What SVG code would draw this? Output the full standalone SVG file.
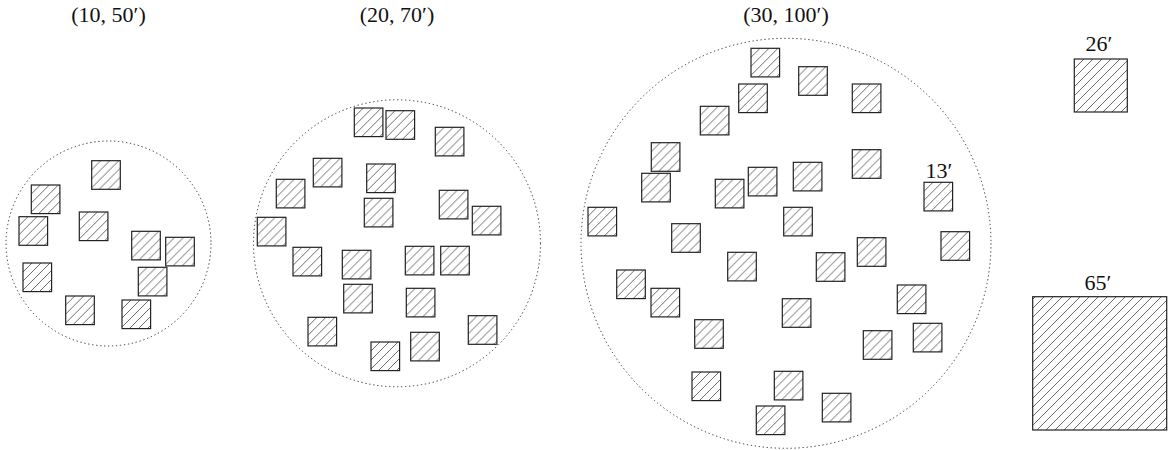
<svg xmlns="http://www.w3.org/2000/svg" width="1173" height="450" viewBox="0 0 1173 450">
  <style>
    .zone { fill: none; stroke: #333; stroke-width: 1; stroke-dasharray: 1.3 2.7; }
    .bldg { fill: url(#hatch); stroke: #222; stroke-width: 1.2; }
    .lbl { font-family: "Liberation Serif", "DejaVu Serif", serif; font-size: 22px; fill: #111; text-anchor: middle; }
  </style>
  <defs>
    <!-- north-east diagonal hatching for building footprints -->
    <pattern id="hatch" patternUnits="userSpaceOnUse" width="9" height="9">
      <rect width="9" height="9" fill="#fff"/>
      <path d="M0,9 L9,0 M-1,1 L1,-1 M8,10 L10,8" stroke="#444" stroke-width="0.8"/>
    </pattern>
    <rect id="sq" width="28.6" height="28.6" class="bldg"/>
  </defs>

  <!-- cluster of 10 buildings, radius 50' -->
  <g id="cluster-10">
    <text class="lbl" x="108.5" y="22">(10, 50′)</text>
    <circle class="zone" cx="108.5" cy="243.5" r="102.5"/>
    <use href="#sq" x="91.7" y="160.7"/>
    <use href="#sq" x="31.3" y="185"/>
    <use href="#sq" x="19" y="216.7"/>
    <use href="#sq" x="79.3" y="212"/>
    <use href="#sq" x="131.7" y="231.3"/>
    <use href="#sq" x="165.7" y="237.3"/>
    <use href="#sq" x="138.3" y="267.3"/>
    <use href="#sq" x="23" y="263"/>
    <use href="#sq" x="65.7" y="296"/>
    <use href="#sq" x="122" y="300"/>
  </g>

  <!-- cluster of 20 buildings, radius 70' -->
  <g id="cluster-20">
    <text class="lbl" x="397" y="22">(20, 70′)</text>
    <circle class="zone" cx="397" cy="243.3" r="143.5"/>
    <use href="#sq" x="354.3" y="108"/>
    <use href="#sq" x="386" y="110.7"/>
    <use href="#sq" x="435.3" y="127.3"/>
    <use href="#sq" x="313.3" y="158.3"/>
    <use href="#sq" x="366.7" y="164"/>
    <use href="#sq" x="276.3" y="179.3"/>
    <use href="#sq" x="364.3" y="198.3"/>
    <use href="#sq" x="439.3" y="190.3"/>
    <use href="#sq" x="472.3" y="206.3"/>
    <use href="#sq" x="257.3" y="217.3"/>
    <use href="#sq" x="293" y="247.3"/>
    <use href="#sq" x="342.3" y="250.3"/>
    <use href="#sq" x="405.3" y="246.3"/>
    <use href="#sq" x="440.7" y="246.3"/>
    <use href="#sq" x="343.7" y="284.3"/>
    <use href="#sq" x="406.3" y="288.3"/>
    <use href="#sq" x="308" y="317.3"/>
    <use href="#sq" x="468.3" y="315.7"/>
    <use href="#sq" x="410.7" y="332.3"/>
    <use href="#sq" x="371" y="342"/>
  </g>

  <!-- cluster of 30 buildings, radius 100' -->
  <g id="cluster-30">
    <text class="lbl" x="786" y="22">(30, 100′)</text>
    <circle class="zone" cx="786" cy="243.3" r="205"/>
    <use href="#sq" x="751" y="48.3"/>
    <use href="#sq" x="798.7" y="66.7"/>
    <use href="#sq" x="738.7" y="84"/>
    <use href="#sq" x="852.3" y="84"/>
    <use href="#sq" x="700.3" y="106.3"/>
    <use href="#sq" x="651.3" y="142.7"/>
    <use href="#sq" x="852.3" y="149.7"/>
    <use href="#sq" x="641.7" y="173.3"/>
    <use href="#sq" x="715.3" y="179.3"/>
    <use href="#sq" x="748.3" y="167.3"/>
    <use href="#sq" x="793.3" y="162.3"/>
    <use href="#sq" x="924" y="182.3"/>
    <use href="#sq" x="588" y="207.3"/>
    <use href="#sq" x="783.7" y="207.3"/>
    <use href="#sq" x="671.7" y="223.7"/>
    <use href="#sq" x="941" y="231.7"/>
    <use href="#sq" x="857.3" y="237.7"/>
    <use href="#sq" x="727.7" y="252.3"/>
    <use href="#sq" x="816.3" y="252.7"/>
    <use href="#sq" x="616.7" y="270"/>
    <use href="#sq" x="651" y="288.3"/>
    <use href="#sq" x="897.3" y="285"/>
    <use href="#sq" x="782.3" y="298.7"/>
    <use href="#sq" x="694.7" y="319.7"/>
    <use href="#sq" x="863.3" y="330.7"/>
    <use href="#sq" x="913.3" y="323.3"/>
    <use href="#sq" x="692" y="372"/>
    <use href="#sq" x="774.3" y="371.3"/>
    <use href="#sq" x="822.3" y="393.3"/>
    <use href="#sq" x="756.3" y="406"/>
    <text class="lbl" x="939" y="178">13′</text>
  </g>

  <!-- single buildings of larger footprint -->
  <g id="bldg-26">
    <text class="lbl" x="1099" y="51">26′</text>
    <rect class="bldg" x="1074.3" y="59" width="53" height="53"/>
  </g>
  <g id="bldg-65">
    <text class="lbl" x="1098" y="290">65′</text>
    <rect class="bldg" x="1032.7" y="296.7" width="134" height="133.3"/>
  </g>

  <!-- no connectors in this figure -->
  <g id="connectors"/>
</svg>
